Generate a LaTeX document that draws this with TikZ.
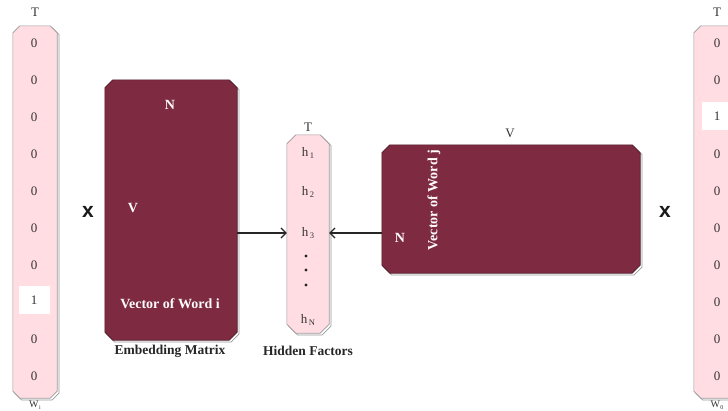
\documentclass[tikz,border=0pt]{standalone}
\usepackage{fontspec}
\setmainfont{Liberation Serif}
\newfontfamily\xfont{Liberation Sans}
\usetikzlibrary{arrows.meta}
\definecolor{maroon}{HTML}{7E2B42}
\definecolor{pinkfill}{HTML}{FFDDE3}
\definecolor{edgegray}{HTML}{9A9A9A}
\newcommand{\hsb}[1]{h\kern1.5pt\raisebox{-0.4ex}{\fontsize{8.5}{8.5}\selectfont #1}}
\newcommand{\wsb}[1]{W\kern0.5pt\raisebox{-0.35ex}{\fontsize{6}{6}\selectfont #1}}
% chamfered outline around a named node: #1 node, #2 chamfer, #3 dx, #4 dy (canvas), #5 style
\newcommand{\chpath}[5]{%
  \path[#5] ([xshift=#2+#3, yshift=#4]#1.north west) -- ([xshift=-#2+#3, yshift=#4]#1.north east)
    -- ([xshift=#3, yshift=-#2+#4]#1.north east)
    -- ([xshift=#3, yshift=#2+#4]#1.south east) -- ([xshift=-#2+#3, yshift=#4]#1.south east)
    -- ([xshift=#2+#3, yshift=#4]#1.south west)
    -- ([xshift=#3, yshift=#2+#4]#1.south west) -- ([xshift=#3, yshift=-#2+#4]#1.north west) -- cycle;}
\newcommand{\chbox}[4]{% node, chamfer, fill, edge
  \chpath{#1}{#2}{1.8pt}{-1.8pt}{draw=edgegray, fill=white, line width=0.7pt}
  \chpath{#1}{#2}{0pt}{0pt}{fill=#3, draw=#4, line width=0.6pt}}
\tikzset{
  area/.style={rectangle, inner sep=0pt, draw=none},
  val/.style={font=\fontsize{13}{13}\selectfont, text=black!80},
  onebox/.style={fill=white, minimum width=31pt, minimum height=28pt, inner sep=0pt, font=\fontsize{13}{13}\selectfont, text=black!80},
  wlabel/.style={font=\bfseries\fontsize{14}{14}\selectfont, text=white!95!pink},
  caption/.style={font=\bfseries\fontsize{13.5}{13.5}\selectfont, text=black!85},
  tlabel/.style={font=\fontsize{13}{13}\selectfont, text=black!80},
  wsub/.style={font=\fontsize{10}{10}\selectfont, text=black!80},
  times/.style={font=\xfont\bfseries\fontsize{21}{21}\selectfont, text=black!90},
  arr/.style={-{Straight Barb[length=5pt,width=10pt]}, line width=1.2pt, black!85}
}
\begin{document}
\begin{tikzpicture}[x=1pt,y=-1pt]
\useasboundingbox (0,0) rectangle (728,410);
\clip (0,0) rectangle (728,410);
% shape areas
\node[area, minimum width=44pt, minimum height=372pt] (wi) at (35,212) {};
\node[area, minimum width=132pt, minimum height=260pt] (emb) at (171,210) {};
\node[area, minimum width=42pt, minimum height=198pt] (hid) at (308,234) {};
\node[area, minimum width=258pt, minimum height=128pt] (ctx) at (511,209) {};
\node[area, minimum width=44pt, minimum height=372pt] (wo) at (716,212) {};
\chbox{wi}{7pt}{pinkfill}{edgegray}
\chbox{emb}{8pt}{maroon}{maroon!60!black}
\chbox{hid}{9pt}{pinkfill}{edgegray}
\chbox{ctx}{8pt}{maroon}{maroon!60!black}
\chbox{wo}{7pt}{pinkfill}{edgegray}
% left one-hot vector
\node[tlabel] (ti) at (35,12) {T};
\node[wsub] (wil) at (35,405) {\wsb{i}};
\foreach \k/\v in {0/0,1/0,2/0,3/0,4/0,5/0,6/0,8/0,9/0}{
  \node[val] (li\k) at (34,{43+37*\k}) {\v};
}
\node[onebox] (li7) at (34,300) {1};
% x signs
\node[times] (x1) at (88,212) {x};
\node[times] (x2) at (665,212) {x};
% embedding matrix
\node[wlabel] (embN) at (170,105) {N};
\node[wlabel] (embV) at (133,208) {V};
\node[wlabel] (embW) at (170,304) {Vector of Word i};
\node[caption] (embC) at (170,351) {Embedding Matrix};
% hidden factors
\node[tlabel] (th) at (308,127) {T};
\node[val] (h1) at (308,153) {\hsb{1}};
\node[val] (h2) at (308,192) {\hsb{2}};
\node[val] (h3) at (308,233) {\hsb{3}};
\foreach \k/\yy in {a/256,b/270,c/285}{
  \fill[black!85] (306,\yy) circle (1.7pt);
}
\node[val] (hN) at (308,320) {\hsb{N}};
\node[caption] (hidC) at (308,351) {Hidden Factors};
% context matrix
\node[tlabel] (ctxV) at (510,133) {V};
\node[wlabel] (ctxN) at (400,238) {N};
\node[wlabel, rotate=90] (ctxW) at (434,200) {Vector of Word j};
% arrows
\draw[arr] (emb.east |- h3) -- (hid.west |- h3);
\draw[arr] (ctx.west |- h3) -- (hid.east |- h3);
% right one-hot vector
\node[tlabel] (to) at (717,12) {T};
\node[wsub] (wol) at (717,405) {\wsb{0}};
\foreach \k/\v in {0/0,1/0,3/0,4/0,5/0,6/0,7/0,8/0,9/0}{
  \node[val] (ro\k) at (717,{43+37*\k}) {\v};
}
\node[onebox] (ro2) at (717,116) {1};
\end{tikzpicture}
\end{document}
